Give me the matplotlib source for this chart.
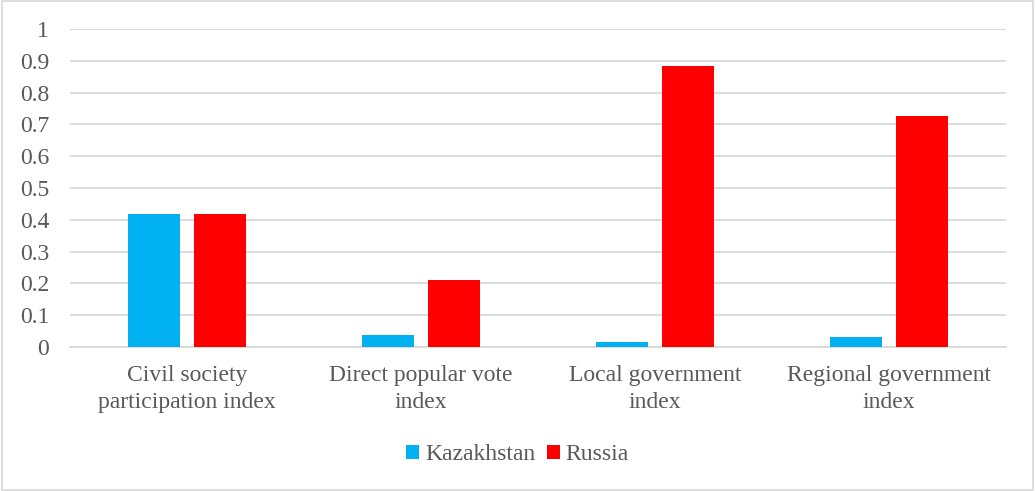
import matplotlib
matplotlib.use("Agg")
import matplotlib.pyplot as plt
import numpy as np
from matplotlib.patches import Rectangle

categories = ["Civil society\nparticipation index", "Direct popular vote\nindex",
              "Local government\nindex", "Regional government\nindex"]
kazakhstan = [0.417, 0.037, 0.017, 0.031]
russia = [0.417, 0.212, 0.883, 0.725]
yticks = [0, 0.1, 0.2, 0.3, 0.4, 0.5, 0.6, 0.7, 0.8, 0.9, 1]
ytick_labels = ["0", "0.1", "0.2", "0.3", "0.4", "0.5", "0.6", "0.7", "0.8", "0.9", "1"]

plt.rcParams['font.family'] = ['Liberation Serif', 'DejaVu Serif']
txt = "#595959"
fs = 17

fig = plt.figure(figsize=(10.35, 4.91), dpi=100)
fig.patches.append(Rectangle((0.0015, 0.002), 0.997, 0.996, transform=fig.transFigure,
                             fill=False, edgecolor="#d9d9d9", linewidth=1.2))
ax = fig.add_axes([70/1035, 1-347/491, (1006-70)/1035, (347-29)/491])

x = np.arange(len(categories))
w = 0.222
off = 0.141
ax.bar(x - off, kazakhstan, w, color="#00b0f0", label="Kazakhstan", zorder=3)
ax.bar(x + off, russia, w, color="#ff0000", label="Russia", zorder=3)

ax.set_xlim(-0.5, len(categories) - 0.5)
ax.set_ylim(0, 1)
ax.set_yticks(yticks)
ax.set_yticklabels(ytick_labels)
ax.set_xticks(x)
ax.set_xticklabels(categories)
ax.yaxis.grid(True, color="#d9d9d9", linewidth=1.3, zorder=0)
ax.set_axisbelow(True)
for s in ["top", "right", "left"]:
    ax.spines[s].set_visible(False)
ax.spines["bottom"].set_color("#d9d9d9")
ax.spines["bottom"].set_linewidth(1.3)
ax.tick_params(axis="both", length=0, labelsize=fs, colors=txt)
ax.tick_params(axis="y", pad=15)
ax.tick_params(axis="x", pad=13)
for lbl in ax.get_xticklabels():
    lbl.set_linespacing(1.35)

leg = fig.legend(loc="center", bbox_to_anchor=(0.5, 1-455/491), ncol=2, frameon=False,
                 fontsize=fs, handlelength=0.55, handleheight=0.55, handletextpad=0.25,
                 columnspacing=0.5, labelcolor=txt)

fig.savefig("out.png", dpi=100)
